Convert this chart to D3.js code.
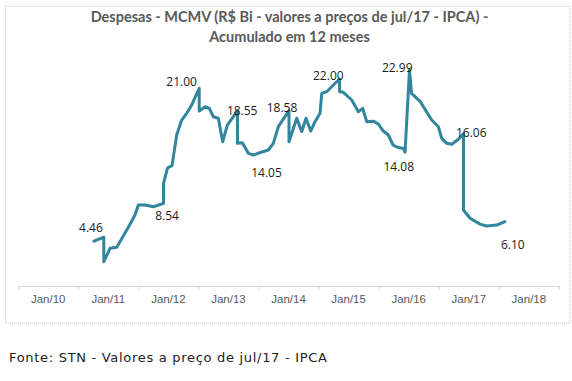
<!DOCTYPE html>
<html>
<head>
<meta charset="utf-8">
<script src="https://cdn.jsdelivr.net/npm/d3@7/dist/d3.min.js"></script>
<style>
  html, body { margin: 0; padding: 0; background: #ffffff; }
  svg { display: block; }
</style>
</head>
<body>
<div id="chart"></div>
<script>
// ---- Data ----
// Position of each point on the time axis, in months since Jan/2010
const months = [
  15.14, 17.1, 17.1, 18.34, 19.68, 22.0, 23.33, 24.0, 25.33, 26.99,
  29.03, 29.03, 29.82, 30.72, 31.66, 32.66, 33.66, 34.66, 36.15, 36.15,
  37.32, 38.17, 38.97, 39.97, 40.85, 41.77, 43.8, 43.8, 44.77, 45.96,
  46.96, 48.4, 49.96, 50.96, 51.96, 54.09, 54.09, 55.63, 56.63, 57.49,
  58.43, 59.29, 60.29, 60.63, 61.63, 62.94, 64.2, 64.2, 64.94, 66.62,
  67.94, 68.82, 69.62, 70.94, 71.94, 72.93, 73.93, 74.87, 75.61, 76.93,
  77.27, 78.16, 78.56, 79.26, 80.31, 82.6, 83.92, 84.6, 85.6, 86.6,
  87.92, 88.94, 88.94, 90.25, 92.25, 93.59, 95.6, 97.21
];
// Despesas MCMV, R$ bi, accumulated 12 months
const values = [
  4.46, 4.90, 2.23, 3.68, 3.79, 5.95, 7.28, 8.37, 8.37, 8.18,
  8.54, 10.71, 12.37, 12.62, 15.94, 17.56, 18.29, 19.19, 21.00, 18.54,
  19.00, 18.83, 17.92, 17.75, 15.22, 17.02, 18.55, 15.04, 15.11, 13.96,
  13.78, 14.05, 14.32, 15.04, 16.84, 18.58, 15.22, 17.75, 16.30, 17.75,
  16.37, 17.38, 18.29, 20.45, 20.63, 21.35, 22.00, 20.63, 20.56, 19.73,
  18.46, 18.83, 17.38, 17.44, 17.13, 16.37, 15.94, 14.86, 14.64, 14.48,
  14.08, 22.99, 20.45, 20.09, 19.55, 17.56, 16.84, 15.58, 15.04, 14.94,
  15.48, 16.06, 7.82, 6.93, 6.30, 6.10, 6.20, 6.56
];
// Indices of the labelled points and their printed text
const labelIndex = [0, 10, 18, 26, 31, 35, 46, 60, 61, 71, 75];
const labelText  = ["4.46", "8.54", "21.00", "18.55", "14.05", "18.58", "22.00", "14.08", "22.99", "16.06", "6.10"];
// Axis tick labels
const tickLabels = ["Jan/10", "Jan/11", "Jan/12", "Jan/13", "Jan/14", "Jan/15", "Jan/16", "Jan/17", "Jan/18"];
const titleLines = ["Despesas - MCMV (R$ Bi - valores a preços de jul/17 - IPCA) -", "Acumulado em 12 meses"];
const sourceText = "Fonte: STN - Valores a preço de jul/17 - IPCA";

// ---- Layout / style ----
const W = 572, H = 381;
const plot = { left: 18.2, right: 558.9, top: 51.3, bottom: 286 };
const lineColor = "#31859c";
// label offsets relative to their point (dx to text centre, dy to baseline)
const labelOffsets = [
  [-3, -9.5], [3.5, 17], [-17.6, -2.3], [4.7, 4], [6, 24.7], [-7, 1.2],
  [-11.3, 1], [-6.3, 18.5], [-12.3, 1.8], [7.8, 3.3], [26, 23]
];

const svg = d3.select("#chart").append("svg")
  .attr("width", W).attr("height", H);

svg.append("rect").attr("width", W).attr("height", H).attr("fill", "#ffffff");

// chart frame (dotted)
svg.append("rect")
  .attr("x", 5.5).attr("y", 6.5).attr("width", 564.5).attr("height", 316.5)
  .attr("fill", "none").attr("stroke", "#c8c8c8").attr("stroke-width", 1)
  .attr("stroke-dasharray", "1,1");

const x = d3.scaleLinear().domain([0, 108]).range([plot.left, plot.right]);
const y = d3.scaleLinear().domain([-0.4, 25]).range([plot.bottom, plot.top]);

// Title
const title = svg.append("text")
  .attr("text-anchor", "middle")
  .attr("font-family", "Lato, 'Open Sans', sans-serif")
  .attr("font-weight", "bold")
  .attr("font-size", 14.5)
  .attr("fill", "#595959");
title.selectAll("tspan").data(titleLines).join("tspan")
  .attr("x", 289.5)
  .attr("y", (d, i) => 22 + i * 19.5)
  .text(d => d);

// X axis
const yearTicks = d3.range(0, 109, 12);
const axis = d3.axisBottom(x).tickValues(yearTicks).tickSize(4).tickFormat("");
const gx = svg.append("g").attr("transform", `translate(0,${plot.bottom})`).call(axis);
gx.select(".domain").attr("stroke", "#d9d9d9").attr("stroke-width", 1);
gx.selectAll(".tick line").attr("stroke", "#d9d9d9");

svg.append("g").selectAll("text").data(tickLabels).join("text")
  .attr("x", (d, i) => x(6 + 12 * i))
  .attr("y", plot.bottom + 17)
  .attr("text-anchor", "middle")
  .attr("font-family", "'Liberation Sans', Arial, sans-serif")
  .attr("font-size", 11.5)
  .attr("fill", "#595959")
  .text(d => d);

// Line
const pts = months.map((m, i) => ({ m, v: values[i] }));
const line = d3.line().x(d => x(d.m)).y(d => y(d.v));
svg.append("path")
  .datum(pts)
  .attr("d", line)
  .attr("fill", "none")
  .attr("stroke", lineColor)
  .attr("stroke-width", 3)
  .attr("stroke-linejoin", "round")
  .attr("stroke-linecap", "round");

// Data labels
svg.append("g").selectAll("text").data(labelIndex).join("text")
  .attr("x", (d, k) => x(months[d]) + labelOffsets[k][0])
  .attr("y", (d, k) => y(values[d]) + labelOffsets[k][1])
  .attr("text-anchor", "middle")
  .attr("font-family", "'Open Sans', sans-serif")
  .attr("font-size", 12)
  .attr("fill", "#1a1a1a")
  .text((d, k) => labelText[k]);

// Source note
svg.append("text")
  .attr("x", 9).attr("y", 362)
  .attr("font-family", "'DejaVu Sans', Verdana, sans-serif")
  .attr("font-size", 13)
  .attr("letter-spacing", 0.7)
  .attr("fill", "#222222")
  .text(sourceText);
</script>
</body>
</html>
